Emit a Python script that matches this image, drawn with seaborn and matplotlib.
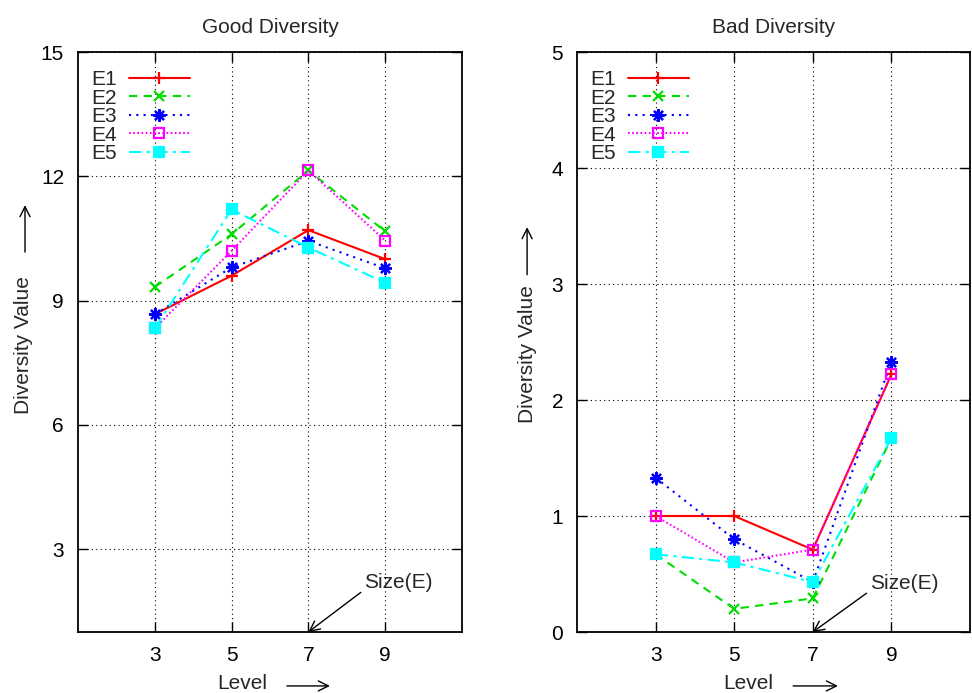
import matplotlib
matplotlib.use("Agg")
import matplotlib.pyplot as plt
import seaborn as sns

sns.set_style("ticks")
plt.rcParams['font.family'] = ['Liberation Sans', 'DejaVu Sans']

levels = [3, 5, 7, 9]
series_names = ["E1", "E2", "E3", "E4", "E5"]

good_E1 = [8.67, 9.6, 10.7, 10.0]
good_E2 = [9.33, 10.6, 12.14, 10.67]
good_E3 = [8.67, 9.8, 10.44, 9.78]
good_E4 = [8.33, 10.2, 12.14, 10.45]
good_E5 = [8.33, 11.2, 10.28, 9.43]

bad_E1 = [1.0, 1.0, 0.71, 2.22]
bad_E2 = [0.67, 0.2, 0.29, 1.67]
bad_E3 = [1.33, 0.8, 0.43, 2.33]
bad_E4 = [1.0, 0.6, 0.71, 2.22]
bad_E5 = [0.67, 0.6, 0.43, 1.67]

good_ticks = [3, 6, 9, 12, 15]
bad_ticks = [0, 1, 2, 3, 4, 5]

colors = ["#ff0000", "#00dd00", "#0000ff", "#ff00ff", "#00ffff"]
styles = [
    dict(linestyle="-", marker="+", ms=9, mfc="#ff0000"),
    dict(linestyle=(0, (4, 3)), marker="x", ms=7.5, mfc="#00dd00"),
    dict(linestyle=(0, (1, 2.5)), marker=(8, 2, 0), ms=9, mfc="#0000ff"),
    dict(linestyle=(0, (0.8, 1.2)), marker="s", ms=7.5, mfc="none"),
    dict(linestyle=(0, (6, 2.5, 1.5, 2.5)), marker="s", ms=7.5, mfc="#00ffff"),
]

fig = plt.figure(figsize=(9.72, 6.93), dpi=100)
W, H = 972, 693
ax1 = fig.add_axes([78 / W, (H - 632) / H, 384 / W, 580 / H])
ax2 = fig.add_axes([577 / W, (H - 632) / H, 393 / W, 580 / H])

panels = [
    (ax1, [good_E1, good_E2, good_E3, good_E4, good_E5], "Good Diversity", (1, 15), good_ticks, 2.2),
    (ax2, [bad_E1, bad_E2, bad_E3, bad_E4, bad_E5], "Bad Diversity", (0, 5), bad_ticks, 0.42),
]

FS = 15
for ax, data, title, ylim, yticks, ytext in panels:
    for name, vals, col, st in zip(series_names, data, colors, styles):
        sns.lineplot(x=levels, y=vals, ax=ax, color=col, lw=1.5,
                     linestyle=st["linestyle"], marker=st["marker"],
                     markersize=st["ms"], markerfacecolor=st["mfc"],
                     markeredgecolor=col, markeredgewidth=1.6, label=name)
    ax.set_xlim(1, 11)
    ax.set_ylim(*ylim)
    ax.set_xticks(levels)
    ax.set_yticks(yticks)
    ax.tick_params(direction="in", length=7, width=1, top=True, right=True,
                   labelsize=FS, pad=10, colors="black")
    ax.grid(True, linestyle=(0, (1, 3)), color="black", lw=0.8)
    for sp in ax.spines.values():
        sp.set_linewidth(1.3)
        sp.set_color("black")
    ax.set_title(title, fontsize=FS, pad=14)
    ax.set_xlabel("")
    ax.set_ylabel("")
    leg = ax.legend(loc="upper left", bbox_to_anchor=(-0.02, 1.005), frameon=False,
                    markerfirst=False, handlelength=2.9, handletextpad=0.6,
                    labelspacing=-0.02, fontsize=15, borderpad=0.5)
    # Size(E) annotation
    ax.annotate("Size(E)", xy=(7, ylim[0]), xytext=(8.45, ytext),
                fontsize=FS, ha="left", va="center",
                arrowprops=dict(arrowstyle="->", color="black", lw=1,
                                shrinkA=0, shrinkB=0, relpos=(0, 0.1),
                                mutation_scale=18))

# axis labels with arrows (gnuplot style)
ax1.text(0.427, -0.088, "Level", transform=ax1.transAxes, fontsize=FS,
         ha="center", va="center")
ax1.annotate("", xy=(0.656, -0.093), xytext=(0.544, -0.093),
             xycoords="axes fraction", textcoords="axes fraction",
             arrowprops=dict(arrowstyle="->", color="black", lw=1, shrinkA=0, shrinkB=0,
                             mutation_scale=18))
ax2.text(0.435, -0.088, "Level", transform=ax2.transAxes, fontsize=FS,
         ha="center", va="center")
ax2.annotate("", xy=(0.664, -0.093), xytext=(0.550, -0.093),
             xycoords="axes fraction", textcoords="axes fraction",
             arrowprops=dict(arrowstyle="->", color="black", lw=1, shrinkA=0, shrinkB=0,
                             mutation_scale=18))

ax1.text(-0.143, 0.495, "Diversity Value", transform=ax1.transAxes, fontsize=FS,
         ha="center", va="center", rotation=90)
ax1.annotate("", xy=(-0.138, 0.736), xytext=(-0.138, 0.655),
             xycoords="axes fraction", textcoords="axes fraction",
             arrowprops=dict(arrowstyle="->", color="black", lw=1, shrinkA=0, shrinkB=0,
                             mutation_scale=18))
ax2.text(-0.127, 0.48, "Diversity Value", transform=ax2.transAxes, fontsize=FS,
         ha="center", va="center", rotation=90)
ax2.annotate("", xy=(-0.127, 0.698), xytext=(-0.127, 0.616),
             xycoords="axes fraction", textcoords="axes fraction",
             arrowprops=dict(arrowstyle="->", color="black", lw=1, shrinkA=0, shrinkB=0,
                             mutation_scale=18))

fig.savefig("out.png", dpi=100)
